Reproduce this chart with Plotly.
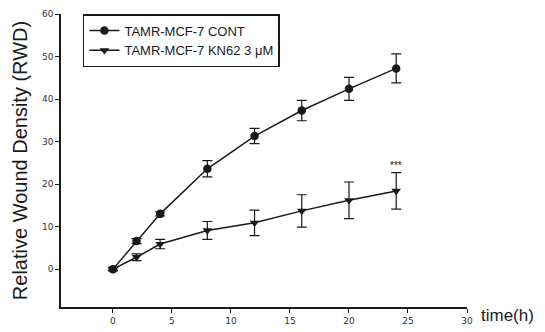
import plotly.graph_objects as go

time_h = [0, 2, 4, 8, 12, 16, 20, 24]
cont = [0, 6.6, 13.0, 23.6, 31.3, 37.3, 42.4, 47.2]
cont_err = [0.4, 0.6, 0.5, 1.9, 1.8, 2.4, 2.7, 3.4]
kn62 = [0, 2.8, 5.9, 9.1, 10.9, 13.7, 16.2, 18.4]
kn62_err = [0.3, 0.8, 1.1, 2.1, 3.0, 3.8, 4.3, 4.3]
sig_label = "***"
sig_x = 24
sig_y = 24.3

ink = "#1a1a1a"
fnt = "Arial, Liberation Sans"
fig = go.Figure()
fig.add_trace(go.Scatter(
    x=time_h, y=cont, name="TAMR-MCF-7 CONT", mode="lines+markers",
    line=dict(color=ink, width=1.5),
    marker=dict(symbol="circle", size=8.5, color=ink),
    error_y=dict(type="data", array=cont_err, color=ink, thickness=1.2, width=5),
))
fig.add_trace(go.Scatter(
    x=time_h, y=kn62, name="TAMR-MCF-7 KN62 3 μM", mode="lines+markers",
    line=dict(color=ink, width=1.5),
    marker=dict(symbol="triangle-down", size=8.5, color=ink),
    error_y=dict(type="data", array=kn62_err, color=ink, thickness=1.2, width=5),
))
fig.add_annotation(x=sig_x, y=sig_y, text=sig_label, showarrow=False,
                   font=dict(size=10, color=ink, family=fnt), yanchor="middle")
fig.add_annotation(x=1.0, y=0, xref="paper", yref="paper", text="time(h)", showarrow=False,
                   xanchor="left", yanchor="middle", xshift=12, yshift=-8,
                   font=dict(size=17, color=ink, family=fnt))

# the page body adds an 8px offset; the figure is sized to compensate
fig.update_layout(
    width=537, height=324,
    margin=dict(l=53, r=78, t=6, b=25),
    paper_bgcolor="white", plot_bgcolor="white",
    font=dict(family=fnt, color=ink),
    legend=dict(x=0.054, y=1.0, xanchor="left", yanchor="top",
                bordercolor=ink, borderwidth=1.5, bgcolor="white",
                font=dict(size=13, color=ink, family=fnt), tracegroupgap=0,
                itemwidth=30),
    xaxis=dict(range=[-4.4, 30], tickvals=[0, 5, 10, 15, 20, 25, 30],
               showgrid=False, zeroline=False, showline=True, linecolor=ink, linewidth=1.5,
               ticks="outside", ticklen=4, tickcolor=ink, tickwidth=1, automargin=False,
               tickfont=dict(size=9, color="#333", family="DejaVu Sans")),
    yaxis=dict(range=[-8.9, 60], tickvals=[0, 10, 20, 30, 40, 50, 60],
               showgrid=False, zeroline=False, showline=True, linecolor=ink, linewidth=1.5,
               ticks="outside", ticklen=4, tickcolor=ink, tickwidth=1, automargin=False,
               tickfont=dict(size=9, color="#333", family="DejaVu Sans"),
               title=dict(text="Relative Wound Density (RWD)", font=dict(size=20, color=ink), standoff=9)),
)
fig.write_html("out.html")
